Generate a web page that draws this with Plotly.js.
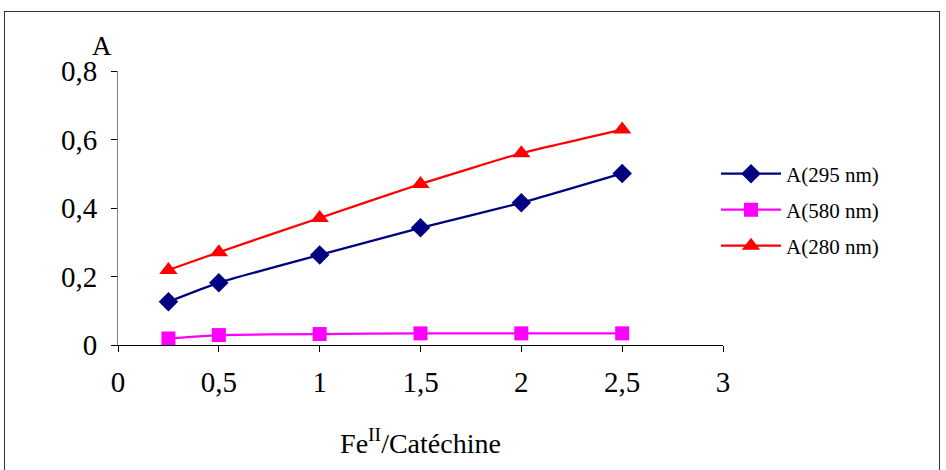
<!DOCTYPE html>
<html><head><meta charset="utf-8">
<script src="https://cdn.plot.ly/plotly-3.0.1.min.js"></script>
<style>
html,body{margin:0;padding:0;background:#fff;}
#frame{position:absolute;left:4px;top:11px;width:936px;height:470px;border:1px solid #333;border-bottom:none;box-sizing:border-box;pointer-events:none;z-index:5;}
#chart{position:absolute;left:0;top:0;width:946px;height:470px;}
</style></head>
<body>
<div id="chart"></div>
<div id="frame"></div>
<script>
const ratio = [0.25, 0.5, 1, 1.5, 2, 2.5];
const a295 = [0.126, 0.182, 0.263, 0.342, 0.415, 0.501];
const a580 = [0.019, 0.029, 0.032, 0.034, 0.034, 0.034];
const a280 = [0.219, 0.271, 0.371, 0.470, 0.560, 0.629];
const xTicks = [0, 0.5, 1, 1.5, 2, 2.5, 3];
const xTickText = ['0', '0,5', '1', '1,5', '2', '2,5', '3'];
const yTicks = [0, 0.2, 0.4, 0.6, 0.8];
const yTickText = ['0', '0,2', '0,4', '0,6', '0,8'];

const F = 'Liberation Serif';
const traces = [
  {x: ratio, y: a295, name: 'A(295 nm)', mode: 'lines+markers', legend: 'legend',
   line: {color: '#000080', width: 2.2, shape: 'spline', smoothing: 0.4},
   marker: {symbol: 'diamond', size: 15, color: '#000080'}},
  {x: ratio, y: a580, name: 'A(580 nm)', mode: 'lines+markers', legend: 'legend2',
   line: {color: '#FF00FF', width: 2.2, shape: 'spline', smoothing: 0.4},
   marker: {symbol: 'square', size: 14, color: '#FF00FF'}},
  {x: ratio, y: a280, name: 'A(280 nm)', mode: 'lines+markers', legend: 'legend3',
   line: {color: '#FF0000', width: 2.2, shape: 'spline', smoothing: 0.4},
   marker: {symbol: 'triangle-up', size: 16, color: '#FF0000'}}
];
function leg(y){
  return {x: (716-118)/605, y: y, xref: 'paper', yref: 'paper', xanchor: 'left', yanchor: 'middle',
    itemwidth: 60,
    font: {family: F, size: 21, color: '#000'}, bgcolor: 'rgba(0,0,0,0)', borderwidth: 0};
}
const layout = {
  width: 946, height: 470,
  margin: {l: 118, r: 223, t: 71, b: 125},
  paper_bgcolor: '#fff', plot_bgcolor: '#fff',
  showlegend: true,
  legend: leg((345-174)/274), legend2: leg((345-210)/274), legend3: leg((345-246)/274),
  xaxis: {range: [0, 3], tickvals: xTicks, ticktext: xTickText, showgrid: false, zeroline: false,
    showline: true, linecolor: '#000', linewidth: 1, ticks: 'outside', ticklen: 6, tickcolor: '#000',
    ticklabelstandoff: 5,
    tickfont: {family: F, size: 29, color: '#000'},
    title: {text: 'Fe<sup>II</sup>/Catéchine', font: {family: F, size: 28, color: '#000'}, standoff: 36}},
  yaxis: {range: [0, 0.8], tickvals: yTicks, ticktext: yTickText, showgrid: false, zeroline: false,
    showline: true, linecolor: '#808080', linewidth: 1, ticks: 'outside', ticklen: 6, tickcolor: '#000',
    ticklabelstandoff: 8,
    tickfont: {family: F, size: 29, color: '#000'}},
  annotations: [{text: 'A', xref: 'paper', yref: 'paper', x: (102-118)/605, y: (345-46)/274,
    xanchor: 'center', yanchor: 'middle', showarrow: false, font: {family: F, size: 27, color: '#000'}}]
};
Plotly.newPlot('chart', traces, layout, {displayModeBar: false, staticPlot: true});
</script>
</body></html>
